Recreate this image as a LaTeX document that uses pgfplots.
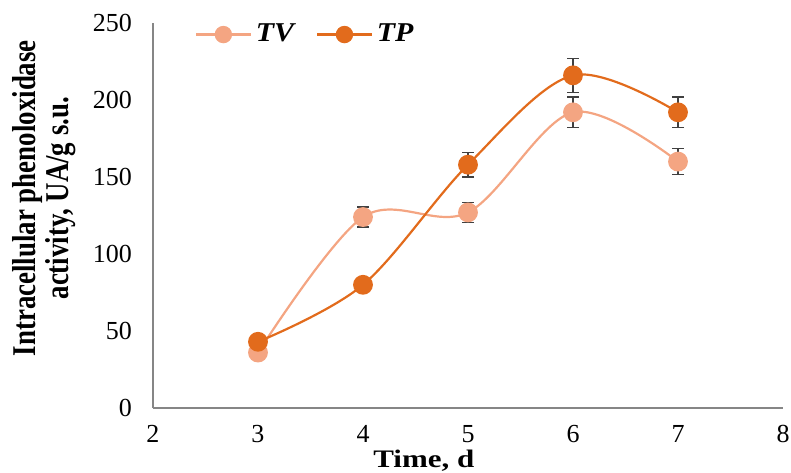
\documentclass[border=0pt]{standalone}
\usepackage{fontspec}
\setmainfont{Liberation Serif}
\newfontfamily\xlfont{Liberation Serif}[FakeStretch=1.23]
\newfontfamily\lgfont{Liberation Serif}[FakeStretch=1.1]
\newfontfamily\ylfont{Liberation Serif}[FakeStretch=0.81]
\usepackage{pgfplots}
\pgfplotsset{compat=1.18}
\definecolor{tvc}{HTML}{F4A582}
\definecolor{tpc}{HTML}{E26B1C}
\definecolor{axc}{HTML}{868686}
\definecolor{errc}{HTML}{404040}
\begin{document}
\begin{tikzpicture}
\begin{axis}[
  at={(0,0)}, anchor=south west,
  scale only axis, width=315pt, height=192.5pt,
  xmin=2, xmax=8, ymin=0, ymax=250,
  xtick={2,3,4,5,6,7,8}, ytick={0,50,100,150,200,250},
  axis x line=bottom, axis y line=left,
  axis line style={draw=axc, line width=0.8pt, -},
  major tick length=0pt,
  /pgf/number format/assume math mode=true,
  tick label style={font=\fontsize{13}{14}\selectfont},
  xticklabel style={yshift=-5pt},
  yticklabel style={xshift=-7pt},
  xlabel={Time, d},
  ylabel={Intracellular phenoloxidase\\activity, UA/g s.u.},
  xlabel style={font=\xlfont\fontsize{12.6}{13}\selectfont\bfseries, at={(axis description cs:0.430,-0.154)}, anchor=base},
  ylabel style={font=\ylfont\fontsize{16.6}{16.5}\selectfont\bfseries, align=center, at={(axis description cs:-0.172,0.545)}, anchor=center, rotate=0},
  legend style={draw=none, fill=none, at={(axis description cs:0.066,0.97)}, anchor=west, font=\lgfont\fontsize{13.6}{14}\selectfont\bfseries\itshape,
    /tikz/every even column/.append style={column sep=9pt}, inner xsep=0pt},
  legend columns=2,
  legend image code/.code={\draw[mark repeat=2,mark phase=2,#1,mark size=3.8pt] plot coordinates {(0cm,0cm)(0.48cm,0cm)(0.96cm,0cm)};},
  clip=false,
]
\addplot[color=tvc, line width=1.1pt, smooth, tension=0.55, mark=*, mark size=4.4pt, mark options={fill=tvc, draw=tvc},
  error bars/.cd, y dir=both, y explicit, error bar style={color=errc, line width=0.6pt}, error mark options={rotate=90, mark size=3pt, line width=0.6pt, color=errc}]
  coordinates {(3,36) +- (0,2) (4,124) +- (0,6.5) (5,127) +- (0,6.5) (6,192) +- (0,10) (7,160) +- (0,8.5)};
\addlegendentry{TV}
\addplot[color=tpc, line width=1.1pt, smooth, tension=0.55, mark=*, mark size=4.4pt, mark options={fill=tpc, draw=tpc},
  error bars/.cd, y dir=both, y explicit, error bar style={color=errc, line width=0.6pt}, error mark options={rotate=90, mark size=3pt, line width=0.6pt, color=errc}]
  coordinates {(3,43) +- (0,2) (4,80) +- (0,2) (5,158) +- (0,8) (6,216) +- (0,11) (7,192) +- (0,10)};
\addlegendentry{TP}
\end{axis}
\pgfresetboundingbox
\path[use as bounding box] (-76.5pt,-32pt) rectangle (319pt,204pt);
\end{tikzpicture}
\end{document}
